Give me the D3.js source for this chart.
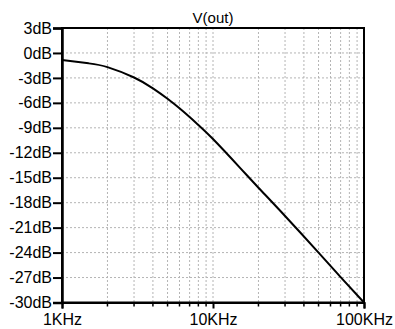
<!DOCTYPE html>
<html>
<head>
<meta charset="utf-8">
<script src="https://cdn.jsdelivr.net/npm/d3@7"></script>
<style>
  body { margin: 0; background: #fff; }
  svg { display: block; font-family: "Liberation Sans", Arial, sans-serif; }
</style>
</head>
<body>
<svg id="chart" width="395" height="329"></svg>
<script>
// frequency response
var freqs = [1000, 1500, 2000, 3000, 4000, 5000, 6000, 7000, 8000, 10000, 15000, 20000, 30000, 50000, 70000, 100000];
var gainDb = [-0.85, -1.25, -1.7, -2.95, -4.25, -5.5, -6.65, -7.7, -8.65, -10.35, -13.75, -16.2, -19.6, -24.0, -26.95, -30.0];

var dbTicks = [3, 0, -3, -6, -9, -12, -15, -18, -21, -24, -27, -30];
var decadeTicks = [1000, 10000, 100000];
var decadeLabels = ["1KHz", "10KHz", "100KHz"];
var traceName = "V(out)";

var svg = d3.select("#chart");
var plotL = 62, plotR = 364, plotT = 28, plotB = 302.5;

var x = d3.scaleLog().domain([1000, 100000]).range([plotL, plotR]);
var y = d3.scaleLinear().domain([3, -30]).range([plotT, plotB]);

// minor grid positions 2k..9k, 20k..90k
var minor = [];
[1000, 10000].forEach(function (d) {
    for (var k = 2; k <= 9; k++) minor.push(d * k);
});
var vGrid = minor.concat([10000]);

svg.append("g").selectAll("line")
    .data(vGrid)
    .enter().append("line")
    .attr("x1", function (d) { return x(d); })
    .attr("x2", function (d) { return x(d); })
    .attr("y1", plotT)
    .attr("y2", plotB)
    .attr("stroke", "#b4b4b4")
    .attr("stroke-width", 1)
    .attr("stroke-dasharray", "2,2");

svg.append("g").selectAll("line")
    .data(dbTicks.slice(1, -1))
    .enter().append("line")
    .attr("x1", plotL)
    .attr("x2", plotR)
    .attr("y1", function (d) { return y(d); })
    .attr("y2", function (d) { return y(d); })
    .attr("stroke", "#b4b4b4")
    .attr("stroke-width", 1)
    .attr("stroke-dasharray", "2,2");

// frame
svg.append("rect")
    .attr("x", plotL)
    .attr("y", plotT)
    .attr("width", plotR - plotL)
    .attr("height", plotB - plotT)
    .attr("fill", "none")
    .attr("stroke", "#000")
    .attr("stroke-width", 2);

// y axis
var yAxis = d3.axisLeft(y)
    .tickValues(dbTicks)
    .tickSize(9)
    .tickPadding(1)
    .tickFormat(function (d) { return d + "dB"; });

var gy = svg.append("g")
    .attr("transform", "translate(" + plotL + ",0)")
    .call(yAxis);
gy.select(".domain").attr("stroke-width", 2.5);
gy.selectAll(".tick line").attr("stroke-width", 2);
gy.selectAll("text")
    .attr("font-size", "16px")
    .attr("fill", "#000")
    .attr("font-family", "Liberation Sans, Arial, sans-serif");

// x axis
var xAxis = d3.axisBottom(x)
    .tickValues(decadeTicks)
    .tickSize(6)
    .tickPadding(5)
    .tickFormat(function (d, i) { return decadeLabels[i]; });

var gx = svg.append("g")
    .attr("transform", "translate(0," + plotB + ")")
    .call(xAxis);
gx.select(".domain").attr("stroke-width", 2);
gx.selectAll(".tick line").attr("stroke-width", 2);
gx.selectAll("text")
    .attr("font-size", "16px")
    .attr("fill", "#000")
    .attr("font-family", "Liberation Sans, Arial, sans-serif");

svg.append("g").selectAll("line")
    .data(minor)
    .enter().append("line")
    .attr("x1", function (d) { return x(d); })
    .attr("x2", function (d) { return x(d); })
    .attr("y1", plotB)
    .attr("y2", plotB + 4)
    .attr("stroke", "#000")
    .attr("stroke-width", 1.5);

// trace
var line = d3.line()
    .x(function (d) { return x(d[0]); })
    .y(function (d) { return y(d[1]); })
    .curve(d3.curveNatural);

svg.append("path")
    .datum(freqs.map(function (f, i) { return [f, gainDb[i]]; }))
    .attr("d", line)
    .attr("fill", "none")
    .attr("stroke", "#000")
    .attr("stroke-width", 2);

// title
svg.append("text")
    .attr("x", (plotL + plotR) / 2)
    .attr("y", 22.5)
    .attr("text-anchor", "middle")
    .attr("font-size", "15px")
    .text(traceName);

// cut-off line above the pane (only the bottoms of the glyphs show)
svg.append("text").attr("x", 109).attr("y", -3.5).attr("font-size", "15px").text("(");
svg.append("text").attr("x", 187).attr("y", -3.5).attr("font-size", "15px").text(")");
svg.append("text").attr("x", 376).attr("y", -3.5).attr("font-size", "15px").text(")");
</script>
</body>
</html>
